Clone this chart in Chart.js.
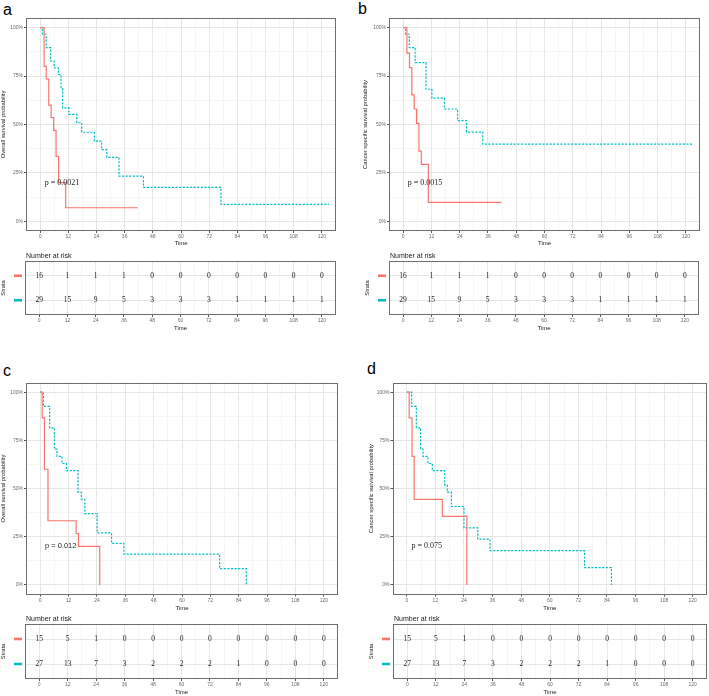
<!DOCTYPE html>
<html><head><meta charset="utf-8">
<script src="https://cdn.jsdelivr.net/npm/chart.js@4/dist/chart.umd.min.js"></script>
<style>
html,body{margin:0;padding:0;background:#fff;}
body{width:709px;height:696px;position:relative;overflow:hidden;}
canvas{position:absolute;}
.lbl{position:absolute;font-family:"Liberation Sans",Arial,sans-serif;font-size:16px;color:#000;line-height:1;}
</style></head><body>
<div class="lbl" style="left:3px;top:2px">a</div>
<div class="lbl" style="left:358px;top:1px">b</div>
<div class="lbl" style="left:3px;top:363px">c</div>
<div class="lbl" style="left:367px;top:361px">d</div>
<script>
// ---------- data ----------
const riskTimes = [0,12,24,36,48,60,72,84,96,108,120];

// panel a (overall survival)
const aRedT  = [0,1.7,2.6,3.7,4.7,5.8,6.8,7.9,10.9,41.6];
const aRedS  = [1,0.80,0.735,0.60,0.535,0.47,0.335,0.20,0.07,0.07];
const aTealT = [0,1,2.6,4.5,6,7.8,8.9,9.6,12.3,15.6,17.7,23.1,26.2,28.4,33.6,44,77,123];
const aTealS = [1,0.966,0.897,0.828,0.793,0.759,0.69,0.586,0.552,0.509,0.46,0.414,0.37,0.33,0.233,0.175,0.088,0.088];
const aRiskRed  = [16,1,1,1,0,0,0,0,0,0,0];
const aRiskTeal = [29,15,9,5,3,3,3,1,1,1,1];

// panel b (cancer specific survival)
const bRedT  = [0,1.6,2.7,3.7,4.7,5.7,6.7,7.7,10.7,41.7];
const bRedS  = [1,0.869,0.794,0.653,0.58,0.506,0.363,0.294,0.098,0.098];
const bTealT = [0,1,2.6,5.1,9.7,12.2,17.5,23.1,26.9,33.8,123];
const bTealS = [1,0.966,0.897,0.82,0.682,0.636,0.58,0.52,0.461,0.399,0.399];
const bRiskRed  = [16,1,1,1,0,0,0,0,0,0,0];
const bRiskTeal = [29,15,9,5,3,3,3,1,1,1,1];

// panel c (overall survival)
const cRedT  = [0,0.85,1.8,3.3,15.2,16.2,25.2];
const cRedS  = [1,0.867,0.60,0.333,0.267,0.20,0];
const cTealT = [0,1.4,4,6,7.1,9.2,11.1,16,17.4,18.9,24.1,30.2,35.4,75.9,87.2];
const cTealS = [1,0.926,0.815,0.704,0.667,0.63,0.593,0.481,0.444,0.37,0.27,0.216,0.16,0.085,0];
const cRiskRed  = [15,5,1,0,0,0,0,0,0,0,0];
const cRiskTeal = [27,13,7,3,2,2,2,1,0,0,0];

// panel d (cancer specific survival)
const dRedT  = [0,1.0,2.2,3.1,14.9,25.2];
const dRedS  = [1,0.867,0.667,0.444,0.356,0];
const dTealT = [0,2,4,5.8,6.8,8.9,10.7,15.9,17,18.7,24,29.8,34.9,74.6,85.9];
const dTealS = [1,0.926,0.815,0.704,0.667,0.63,0.593,0.519,0.481,0.407,0.296,0.238,0.178,0.09,0];
const dRiskRed  = [15,5,1,0,0,0,0,0,0,0,0];
const dRiskTeal = [27,13,7,3,2,2,2,1,0,0,0];

const pValues = ['p = 0.0021','p = 0.0015','p = 0.012','p = 0.075'];
const yTitles = ['Overall survival probability','Cancer specific survival probability','Overall survival probability','Cancer specific survival probability'];
const xTicks = [0,6,12,18,24,30,36,42,48,54,60,66,72,78,84,90,96,102,108,114,120];
const yTicks = [0,0.125,0.25,0.375,0.5,0.625,0.75,0.875,1];

// ---------- styles ----------
const RED='#F8766D', TEAL='#00BFC4';
const SANS='"Liberation Sans", Arial, sans-serif';
const SERIF='"Liberation Serif", "Times New Roman", serif';
const GRID_MAJ='#E6E6E6', GRID_MIN='#F2F2F2';

function makeCanvas(left, top, w, h){
  const c=document.createElement('canvas');
  c.style.left=left+'px'; c.style.top=top+'px';
  c.style.width=w+'px'; c.style.height=h+'px';
  c.width=w; c.height=h;
  document.body.appendChild(c);
  return c;
}
const isMajorX = v => Math.abs(v % 12) < 1e-9;
const isMajorY = v => Math.abs((v*4) - Math.round(v*4)) < 1e-9;

const framePlugin = {
  id:'frame',
  afterDatasetsDraw(chart){
    const a=chart.chartArea, ctx=chart.ctx;
    ctx.save();
    ctx.strokeStyle='#6e6e6e'; ctx.lineWidth=1;
    const l=Math.round(a.left)+0.5, t=Math.round(a.top)+0.5, r=Math.round(a.right)-0.5, b=Math.round(a.bottom)-0.5;
    ctx.strokeRect(l,t,r-l,b-t);
    ctx.restore();
  }
};

function xScale(hgt){
  return {
    type:'linear', min:-6, max:126,
    afterBuildTicks(s){ s.ticks = xTicks.map(v=>({value:v})); },
    afterFit(s){ s.height = hgt; },
    ticks:{ autoSkip:false, maxRotation:0, padding:1, color:'#6a6a6a',
      font:{family:SANS,size:5}, callback:(v)=> isMajorX(v) ? String(v) : '' },
    grid:{ drawOnChartArea:true, tickLength:2,
      color:(c)=> (c.tick && isMajorX(c.tick.value)) ? GRID_MAJ : GRID_MIN,
      lineWidth:(c)=> (c.tick && isMajorX(c.tick.value)) ? 1 : 0.7,
      tickColor:(c)=> (c.tick && isMajorX(c.tick.value)) ? '#555' : 'rgba(0,0,0,0)' },
    border:{display:false},
    title:{display:true, text:'Time', color:'#222', font:{family:SANS,size:6}, padding:0}
  };
}

function makePlot(idx, left, top, w, h, L, T, R, B, redT, redS, tealT, tealS, pSerif){
  const cv = makeCanvas(left, top, w, h);
  const yW = L-left, xH = (top+h)-B;
  const pPlugin = {
    id:'pval'+idx,
    afterDatasetsDraw(chart){
      const ctx=chart.ctx, xs=chart.scales.x, ys=chart.scales.y;
      ctx.save();
      ctx.fillStyle='#222';
      ctx.font = pSerif ? ('8px '+SERIF) : ('7.5px '+SANS);
      ctx.textAlign='left'; ctx.textBaseline='middle';
      ctx.fillText(pValues[idx], xs.getPixelForValue(2), ys.getPixelForValue(0.2));
      ctx.restore();
    }
  };
  new Chart(cv, {
    type:'line',
    data:{ datasets:[
      { data: redT.map((t,i)=>({x:t,y:redS[i]})), borderColor:RED, borderWidth:1.2,
        stepped:true, pointRadius:0, fill:false, tension:0 },
      { data: tealT.map((t,i)=>({x:t,y:tealS[i]})), borderColor:TEAL, borderWidth:1.2,
        borderDash:[2.2,1.4], stepped:true, pointRadius:0, fill:false, tension:0 }
    ]},
    options:{
      responsive:false, devicePixelRatio:1, animation:false, events:[],
      layout:{ padding:{ left:0, top:T-top, right:(left+w)-R, bottom:0 } },
      plugins:{ legend:{display:false}, tooltip:{enabled:false}, title:{display:false} },
      scales:{
        x: xScale(xH),
        y:{
          type:'linear', min:-0.05, max:1.05,
          afterBuildTicks(s){ s.ticks = yTicks.map(v=>({value:v})); },
          afterFit(s){ s.width = yW; },
          ticks:{ padding:1, color:'#6a6a6a', font:{family:SANS,size:5},
            callback:(v)=> isMajorY(v) ? Math.round(v*100)+'%' : '' },
          grid:{ tickLength:2,
            color:(c)=> (c.tick && isMajorY(c.tick.value)) ? GRID_MAJ : GRID_MIN,
            lineWidth:(c)=> (c.tick && isMajorY(c.tick.value)) ? 1 : 0.7,
            tickColor:(c)=> (c.tick && isMajorY(c.tick.value)) ? '#555' : 'rgba(0,0,0,0)' },
          border:{display:false},
          title:{display:true, text:yTitles[idx], color:'#222', font:{family:SANS,size:5.8}, padding:0}
        }
      }
    },
    plugins:[framePlugin, pPlugin]
  });
}

function makeTable(idx, left, top, w, h, L, T, R, B, riskRed, riskTeal){
  const cv = makeCanvas(left, top, w, h);
  const yW = L-left, xH = (top+h)-B;
  const tablePlugin = {
    id:'risk'+idx,
    afterDatasetsDraw(chart){
      const ctx=chart.ctx, ys=chart.scales.y, a=chart.chartArea;
      ctx.save();
      ctx.font='7.5px '+SERIF; ctx.fillStyle='#1a1a1a';
      ctx.textAlign='center'; ctx.textBaseline='middle';
      chart.data.datasets.forEach((ds,di)=>{
        const meta=chart.getDatasetMeta(di);
        meta.data.forEach((el,i)=>{ ctx.fillText(String(ds.counts[i]), el.x, el.y); });
        ctx.fillStyle = ds.dashColor;
        const py = ys.getPixelForValue(ds.data[0].y);
        ctx.fillRect(a.left-11, py-1.3, 8, 2.6);
        ctx.fillStyle='#1a1a1a';
      });
      ctx.font='7px '+SANS; ctx.textAlign='left'; ctx.textBaseline='alphabetic';
      ctx.fillStyle='#1a1a1a';
      ctx.fillText('Number at risk', a.left+1, a.top-3.5);
      ctx.restore();
    }
  };
  new Chart(cv, {
    type:'scatter',
    data:{ datasets:[
      { data: riskTimes.map(t=>({x:t,y:2})), counts:riskRed, dashColor:RED, pointRadius:0, showLine:false },
      { data: riskTimes.map(t=>({x:t,y:1})), counts:riskTeal, dashColor:TEAL, pointRadius:0, showLine:false }
    ]},
    options:{
      responsive:false, devicePixelRatio:1, animation:false, events:[],
      layout:{ padding:{ left:0, top:T-top, right:(left+w)-R, bottom:0 } },
      plugins:{ legend:{display:false}, tooltip:{enabled:false} },
      scales:{
        x: xScale(xH),
        y:{
          type:'linear', min:0.4, max:2.6,
          afterBuildTicks(s){ s.ticks=[{value:1},{value:2}]; },
          afterFit(s){ s.width = yW; },
          ticks:{ callback:()=> '', font:{family:SANS,size:5} },
          grid:{ color:GRID_MAJ, lineWidth:1, drawTicks:false, tickLength:0 },
          border:{display:false},
          title:{display:true, text:'Strata', color:'#222', font:{family:SANS,size:5.8}, padding:0}
        }
      }
    },
    plugins:[framePlugin, tablePlugin]
  });
}

// plots
makePlot(0,   0,   0, 345, 247,  26,  18, 336, 231, aRedT, aRedS, aTealT, aTealS, true);
makePlot(1, 362,   0, 347, 247, 389,  18, 700, 231, bRedT, bRedS, bTealT, bTealS, true);
makePlot(2,   0, 360, 345, 252,  26, 382.5, 338, 594.6, cRedT, cRedS, cTealT, cTealS, false);
makePlot(3, 368, 360, 341, 252, 392.5, 382.5, 707, 594.6, dRedT, dRedS, dTealT, dTealS, true);
// risk tables
makeTable(0,   0, 248, 345, 84,  25, 261, 336, 315, aRiskRed, aRiskTeal);
makeTable(1, 364, 248, 345, 84, 389, 261, 699, 315, bRiskRed, bRiskTeal);
makeTable(2,   0, 612, 345, 84,  25, 624, 338, 679, cRiskRed, cRiskTeal);
makeTable(3, 368, 612, 341, 84, 393, 624, 707, 679, dRiskRed, dRiskTeal);
</script>
</body></html>
